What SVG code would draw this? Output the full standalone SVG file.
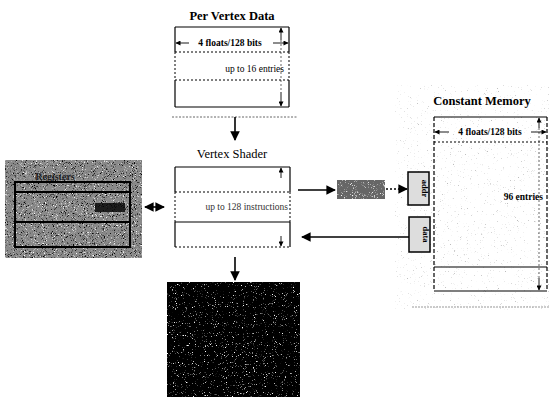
<svg xmlns="http://www.w3.org/2000/svg" width="550" height="399" viewBox="0 0 550 399">
<style>
.t{font-family:"Liberation Serif","Times New Roman",serif;fill:#000}
.ttl{font-size:12.5px;font-weight:bold}
.sm{font-size:9.5px}
.box{fill:none;stroke:#000;stroke-width:1.2}
.dash{fill:none;stroke:#000;stroke-width:1;stroke-dasharray:2 2}
.ln{stroke:#000;stroke-width:1.6;fill:none}
.thin{stroke:#000;stroke-width:0.9;fill:none}
</style>
<defs>
<marker id="ah" viewBox="0 0 10 10" refX="9" refY="5" markerWidth="6" markerHeight="6" orient="auto-start-reverse"><path d="M0,0 L10,5 L0,10 z" fill="#000"/></marker>
<marker id="sa" viewBox="0 0 10 10" refX="9" refY="5" markerUnits="userSpaceOnUse" markerWidth="6" markerHeight="5" orient="auto-start-reverse"><path d="M0,0 L10,5 L0,10 z" fill="#000"/></marker>
<filter id="spkW" x="0" y="0" width="1" height="1">
<feTurbulence type="fractalNoise" baseFrequency="1.1" numOctaves="2" seed="4"/>
<feColorMatrix type="matrix" values="0 0 0 0 1  0 0 0 0 1  0 0 0 0 1  5 0 0 0 -3.0"/>
<feComposite in2="SourceGraphic" operator="in"/>
</filter>
<filter id="spkD" x="0" y="0" width="1" height="1">
<feTurbulence type="fractalNoise" baseFrequency="1.1" numOctaves="2" seed="5"/>
<feColorMatrix type="matrix" values="0 0 0 0 1  0 0 0 0 1  0 0 0 0 1  6 0 0 0 -3.9"/>
<feComposite in2="SourceGraphic" operator="in"/>
</filter>
<filter id="spkK" x="0" y="0" width="1" height="1">
<feTurbulence type="fractalNoise" baseFrequency="1.1" numOctaves="2" seed="9"/>
<feColorMatrix type="matrix" values="0 0 0 0 0  0 0 0 0 0  0 0 0 0 0  5 0 0 0 -2.9"/>
<feComposite in2="SourceGraphic" operator="in"/>
</filter>
<filter id="spkL" x="0" y="0" width="1" height="1">
<feTurbulence type="fractalNoise" baseFrequency="1.3" numOctaves="2" seed="7"/>
<feColorMatrix type="matrix" values="0 0 0 0 0.5  0 0 0 0 0.5  0 0 0 0 0.5  6 0 0 0 -4.1"/>
<feComposite in2="SourceGraphic" operator="in"/>
</filter>
</defs>
<rect width="550" height="399" fill="#fff"/>

<g id="per-vertex-data">
<text class="t ttl" x="232" y="20" text-anchor="middle">Per Vertex Data</text>
<line class="box" x1="175" y1="27" x2="289" y2="27"/>
<line class="box" x1="175" y1="107" x2="289" y2="107"/>
<line class="box" x1="175" y1="27" x2="175" y2="52"/>
<line class="box" x1="289" y1="27" x2="289" y2="52"/>
<line class="box" x1="175" y1="80" x2="175" y2="107"/>
<line class="box" x1="289" y1="80" x2="289" y2="107"/>
<line class="dash" x1="175" y1="52" x2="175" y2="80"/>
<line class="dash" x1="289" y1="52" x2="289" y2="80"/>
<line class="dash" x1="175" y1="52" x2="289" y2="52"/>
<line class="dash" x1="175" y1="80" x2="289" y2="80"/>
<line class="thin" x1="189" y1="43" x2="176" y2="43" marker-end="url(#sa)"/>
<line class="thin" x1="273" y1="43" x2="288" y2="43" marker-end="url(#sa)"/>
<text class="t sm" x="230" y="46" text-anchor="middle" font-weight="bold">4 floats/128 bits</text>
<line class="thin" x1="281" y1="40" x2="281" y2="28" marker-end="url(#sa)"/>
<line class="thin" x1="281" y1="92" x2="281" y2="106" marker-end="url(#sa)"/>
<line class="dash" x1="281" y1="40" x2="281" y2="92" style="stroke-width:0.6"/>
<text class="t sm" x="284" y="72" text-anchor="end">up to 16 entries</text>
</g>

<g id="vertex-shader">
<text class="t" x="232" y="158" text-anchor="middle" style="font-size:12.5px">Vertex Shader</text>
<line class="box" x1="175" y1="167" x2="290" y2="167"/>
<line class="box" x1="175" y1="167" x2="175" y2="192"/>
<line class="box" x1="290" y1="167" x2="290" y2="192"/>
<line class="box" x1="175" y1="222" x2="175" y2="247"/>
<line class="box" x1="290" y1="222" x2="290" y2="247"/>
<line class="dash" x1="175" y1="192" x2="175" y2="222"/>
<line class="dash" x1="290" y1="192" x2="290" y2="222"/>
<line class="dash" x1="175" y1="192" x2="290" y2="192"/>
<line class="box" x1="175" y1="222" x2="290" y2="222"/>
<line class="dash" x1="175" y1="247" x2="290" y2="247"/>
<line class="thin" x1="281" y1="178" x2="281" y2="168" marker-end="url(#sa)"/>
<line class="thin" x1="281" y1="236" x2="281" y2="246" marker-end="url(#sa)"/>
<text class="t sm" x="288" y="210" text-anchor="end" style="fill:#333">up to 128 instructions</text>
</g>

<g id="registers">
<rect x="5" y="160" width="137" height="98" fill="#8a8a8a"/>
<rect x="5" y="160" width="137" height="98" fill="#000" filter="url(#spkW)"/>
<rect x="5" y="160" width="137" height="98" fill="#000" filter="url(#spkK)"/>
<text class="t" x="55" y="180" text-anchor="middle" style="font-size:10px;font-weight:bold;fill:#222">Registers</text>
<rect x="15" y="182" width="115" height="65" fill="none" stroke="#000" stroke-width="2"/>
<line x1="15" y1="192" x2="130" y2="192" stroke="#000" stroke-width="2"/>
<line x1="15" y1="222" x2="130" y2="222" stroke="#000" stroke-width="2"/>
<rect x="95" y="203" width="30" height="9" fill="#000" opacity="0.8"/>
</g>

<g id="vertex-output">
<rect x="167" y="282" width="133" height="115" fill="#000"/>
<rect x="167" y="282" width="133" height="115" fill="#000" filter="url(#spkD)"/>
</g>

<g id="constant-memory">
<rect x="395" y="85" width="155" height="225" fill="#000" filter="url(#spkL)"/>
<text class="t" x="482" y="105" text-anchor="middle" style="font-size:12.5px;font-weight:bold">Constant Memory</text>
<line class="box" x1="434" y1="117" x2="547" y2="117"/>
<line class="box" x1="434" y1="291" x2="547" y2="291"/>
<line class="box" x1="434" y1="117" x2="434" y2="291" style="stroke-dasharray:4 2"/>
<line class="box" x1="547" y1="117" x2="547" y2="291" style="stroke-dasharray:4 2"/>
<line class="dash" x1="434" y1="142" x2="547" y2="142"/>
<line class="box" x1="434" y1="267" x2="547" y2="267"/>
<line class="thin" x1="449" y1="132" x2="435" y2="132" marker-end="url(#sa)"/>
<line class="thin" x1="531" y1="132" x2="546" y2="132" marker-end="url(#sa)"/>
<text class="t sm" x="490" y="135" text-anchor="middle" font-weight="bold">4 floats/128 bits</text>
<line class="thin" x1="539" y1="128" x2="539" y2="118" marker-end="url(#sa)"/>
<line class="thin" x1="539" y1="278" x2="539" y2="290" marker-end="url(#sa)"/>
<line class="dash" x1="539" y1="128" x2="539" y2="278" style="stroke-width:0.6"/>
<text class="t sm" x="543" y="200" text-anchor="end" font-weight="bold">96 entries</text>
<line x1="412" y1="307" x2="550" y2="307" stroke="#999" stroke-width="1" stroke-dasharray="2 1"/>
</g>

<g id="addr-in">
<rect x="337" y="180" width="48" height="19" fill="#666"/>
<rect x="337" y="180" width="48" height="19" fill="#000" filter="url(#spkW)"/>
</g>

<g id="addr">
<rect x="408" y="172" width="21" height="33" fill="#ddd" stroke="#000" stroke-width="1.5"/>
<text class="t" transform="translate(422 188.5) rotate(90)" text-anchor="middle" style="font-size:8.5px;font-weight:bold">addr</text>
</g>

<g id="data">
<rect x="409" y="217" width="21" height="35" fill="#ddd" stroke="#000" stroke-width="1.5"/>
<text class="t" transform="translate(423 234.5) rotate(90)" text-anchor="middle" style="font-size:8.5px;font-weight:bold">data</text>
</g>

<g id="connectors">
<line x1="172" y1="117" x2="298" y2="117" stroke="#666" stroke-width="1" stroke-dasharray="2 1.5"/>
<line class="ln" x1="235" y1="117" x2="235" y2="140" marker-end="url(#ah)"/>
<line class="ln" x1="235" y1="257" x2="235" y2="280" marker-end="url(#ah)"/>
<line class="ln" x1="145" y1="207" x2="164" y2="207" marker-start="url(#ah)" marker-end="url(#ah)"/>
<line class="ln" x1="298" y1="190" x2="335" y2="190" marker-end="url(#ah)"/>
<line class="ln" x1="386" y1="189" x2="407" y2="189" marker-end="url(#ah)" stroke-dasharray="2 2"/>
<line class="ln" x1="409" y1="237" x2="302" y2="237" marker-end="url(#ah)"/>
</g>
</svg>
